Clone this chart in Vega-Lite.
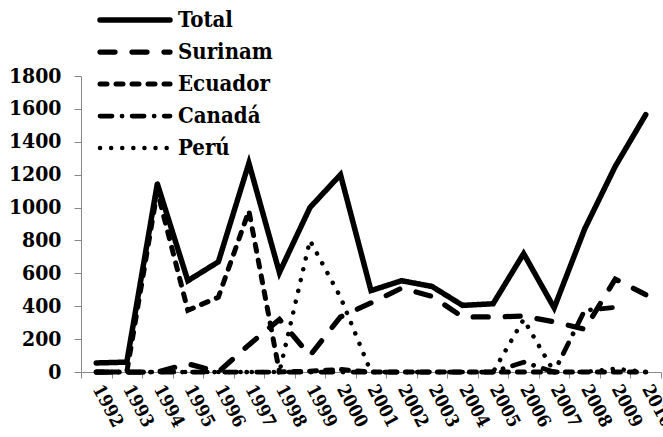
{
  "$schema": "https://vega.github.io/schema/vega-lite/v6.json",
  "width": 580,
  "height": 296,
  "autosize": "none",
  "padding": {"left": 81, "top": 76, "right": 2, "bottom": 65},
  "background": "white",
  "config": {
    "view": {"stroke": null}
  },
  "data": {
    "values": [
      {"year": "1992", "series": "Total", "value": 55},
      {"year": "1993", "series": "Total", "value": 60},
      {"year": "1994", "series": "Total", "value": 1145},
      {"year": "1995", "series": "Total", "value": 555},
      {"year": "1996", "series": "Total", "value": 670},
      {"year": "1997", "series": "Total", "value": 1270},
      {"year": "1998", "series": "Total", "value": 605},
      {"year": "1999", "series": "Total", "value": 1000},
      {"year": "2000", "series": "Total", "value": 1200},
      {"year": "2001", "series": "Total", "value": 495},
      {"year": "2002", "series": "Total", "value": 555},
      {"year": "2003", "series": "Total", "value": 520},
      {"year": "2004", "series": "Total", "value": 405},
      {"year": "2005", "series": "Total", "value": 415},
      {"year": "2006", "series": "Total", "value": 720},
      {"year": "2007", "series": "Total", "value": 390},
      {"year": "2008", "series": "Total", "value": 870},
      {"year": "2009", "series": "Total", "value": 1250},
      {"year": "2010", "series": "Total", "value": 1565},
      {"year": "1992", "series": "Surinam", "value": 0},
      {"year": "1993", "series": "Surinam", "value": 0},
      {"year": "1994", "series": "Surinam", "value": 0},
      {"year": "1995", "series": "Surinam", "value": 50},
      {"year": "1996", "series": "Surinam", "value": 0},
      {"year": "1997", "series": "Surinam", "value": 165},
      {"year": "1998", "series": "Surinam", "value": 320},
      {"year": "1999", "series": "Surinam", "value": 100},
      {"year": "2000", "series": "Surinam", "value": 335},
      {"year": "2001", "series": "Surinam", "value": 420},
      {"year": "2002", "series": "Surinam", "value": 510},
      {"year": "2003", "series": "Surinam", "value": 460},
      {"year": "2004", "series": "Surinam", "value": 335},
      {"year": "2005", "series": "Surinam", "value": 335},
      {"year": "2006", "series": "Surinam", "value": 340},
      {"year": "2007", "series": "Surinam", "value": 305},
      {"year": "2008", "series": "Surinam", "value": 260},
      {"year": "2009", "series": "Surinam", "value": 565},
      {"year": "2010", "series": "Surinam", "value": 470},
      {"year": "1992", "series": "Ecuador", "value": 0},
      {"year": "1993", "series": "Ecuador", "value": 0},
      {"year": "1994", "series": "Ecuador", "value": 1100},
      {"year": "1995", "series": "Ecuador", "value": 375},
      {"year": "1996", "series": "Ecuador", "value": 455},
      {"year": "1997", "series": "Ecuador", "value": 980},
      {"year": "1998", "series": "Ecuador", "value": 0},
      {"year": "1999", "series": "Ecuador", "value": 5},
      {"year": "2000", "series": "Ecuador", "value": 15},
      {"year": "2001", "series": "Ecuador", "value": 0},
      {"year": "2002", "series": "Ecuador", "value": 0},
      {"year": "2003", "series": "Ecuador", "value": 0},
      {"year": "2004", "series": "Ecuador", "value": 0},
      {"year": "2005", "series": "Ecuador", "value": 0},
      {"year": "2006", "series": "Ecuador", "value": 0},
      {"year": "2007", "series": "Ecuador", "value": 0},
      {"year": "2008", "series": "Ecuador", "value": 0},
      {"year": "2009", "series": "Ecuador", "value": 0},
      {"year": "2010", "series": "Ecuador", "value": 0},
      {"year": "1992", "series": "Canadá", "value": 0},
      {"year": "1993", "series": "Canadá", "value": 0},
      {"year": "1994", "series": "Canadá", "value": 0},
      {"year": "1995", "series": "Canadá", "value": 0},
      {"year": "1996", "series": "Canadá", "value": 0},
      {"year": "1997", "series": "Canadá", "value": 0},
      {"year": "1998", "series": "Canadá", "value": 0},
      {"year": "1999", "series": "Canadá", "value": 0},
      {"year": "2000", "series": "Canadá", "value": 0},
      {"year": "2001", "series": "Canadá", "value": 0},
      {"year": "2002", "series": "Canadá", "value": 0},
      {"year": "2003", "series": "Canadá", "value": 0},
      {"year": "2004", "series": "Canadá", "value": 0},
      {"year": "2005", "series": "Canadá", "value": 0},
      {"year": "2006", "series": "Canadá", "value": 60},
      {"year": "2007", "series": "Canadá", "value": 0},
      {"year": "2008", "series": "Canadá", "value": 375},
      {"year": "2009", "series": "Canadá", "value": 393},
      {"year": "1992", "series": "Perú", "value": 0},
      {"year": "1993", "series": "Perú", "value": 0},
      {"year": "1994", "series": "Perú", "value": 0},
      {"year": "1995", "series": "Perú", "value": 0},
      {"year": "1996", "series": "Perú", "value": 0},
      {"year": "1997", "series": "Perú", "value": 0},
      {"year": "1998", "series": "Perú", "value": 0},
      {"year": "1999", "series": "Perú", "value": 800},
      {"year": "2000", "series": "Perú", "value": 455},
      {"year": "2001", "series": "Perú", "value": 0},
      {"year": "2002", "series": "Perú", "value": 0},
      {"year": "2003", "series": "Perú", "value": 0},
      {"year": "2004", "series": "Perú", "value": 0},
      {"year": "2005", "series": "Perú", "value": 0},
      {"year": "2006", "series": "Perú", "value": 320},
      {"year": "2007", "series": "Perú", "value": 0},
      {"year": "2008", "series": "Perú", "value": 0},
      {"year": "2009", "series": "Perú", "value": 20},
      {"year": "2010", "series": "Perú", "value": 0}
    ]
  },
  "mark": {"type": "line", "color": "black", "strokeCap": "round", "strokeJoin": "miter"},
  "encoding": {
    "x": {
      "field": "year",
      "type": "ordinal",
      "scale": {"type": "band", "paddingInner": 0, "paddingOuter": 0},
      "bandPosition": 0.5,
      "axis": {
        "title": null,
        "tickBand": "extent",
        "labelAngle": 62,
        "labelAlign": "left",
        "labelBaseline": "middle",
        "labelFont": "DejaVu Serif Condensed",
        "labelFontWeight": "bold",
        "labelFontSize": 18,
        "labelColor": "black",
        "labelPadding": 8,
        "tickSize": 6,
        "tickColor": "#888888",
        "domainColor": "#888888",
        "grid": false
      }
    },
    "y": {
      "field": "value",
      "type": "quantitative",
      "scale": {"domain": [0, 1800], "nice": false},
      "axis": {
        "title": null,
        "format": "d",
        "values": [0, 200, 400, 600, 800, 1000, 1200, 1400, 1600, 1800],
        "labelFont": "DejaVu Serif Condensed",
        "labelFontWeight": "bold",
        "labelFontSize": 21,
        "labelColor": "black",
        "labelPadding": 13,
        "tickSize": 7,
        "tickColor": "#888888",
        "domainColor": "#888888",
        "grid": false
      }
    },
    "strokeDash": {
      "field": "series",
      "type": "nominal",
      "scale": {
        "domain": ["Total", "Surinam", "Ecuador", "Canadá", "Perú"],
        "range": [[1, 0], [15, 17], [7, 9], [12, 10, 0.1, 10], [0.1, 11]]
      },
      "legend": {
        "title": null,
        "orient": "none",
        "legendX": 16,
        "legendY": -72,
        "padding": 0,
        "symbolType": "stroke",
        "symbolSize": 4900,
        "symbolStrokeColor": "black",
        "clipHeight": 32,
        "labelFont": "DejaVu Serif Condensed",
        "labelFontWeight": "bold",
        "labelFontSize": 22,
        "labelColor": "black",
        "labelOffset": 5,
        "rowPadding": 0,
        "encode": {"symbols": {"update": {"strokeCap": {"value": "round"}}}}
      }
    },
    "strokeWidth": {
      "field": "series",
      "type": "nominal",
      "scale": {
        "domain": ["Total", "Surinam", "Ecuador", "Canadá", "Perú"],
        "range": [5.5, 4.5, 4.5, 4.5, 4.5]
      },
      "legend": {
        "title": null,
        "orient": "none",
        "legendX": 16,
        "legendY": -72,
        "padding": 0,
        "symbolType": "stroke",
        "symbolSize": 4900,
        "symbolStrokeColor": "black",
        "clipHeight": 32,
        "labelFont": "DejaVu Serif Condensed",
        "labelFontWeight": "bold",
        "labelFontSize": 22,
        "labelColor": "black",
        "labelOffset": 5,
        "rowPadding": 0,
        "encode": {"symbols": {"update": {"strokeCap": {"value": "round"}}}}
      }
    }
  }
}
